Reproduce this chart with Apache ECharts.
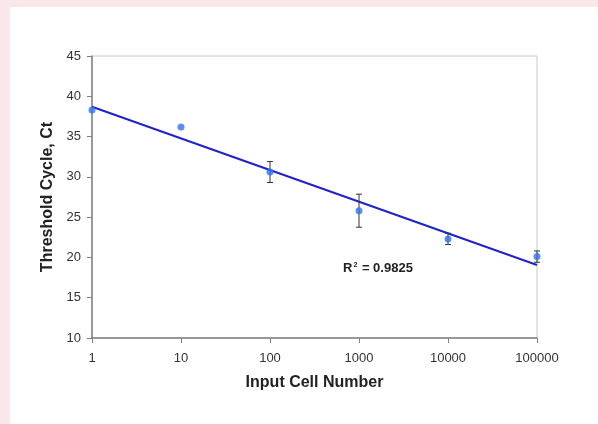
<!DOCTYPE html>
<html>
<head>
<meta charset="utf-8">
<script src="https://cdn.jsdelivr.net/npm/echarts@6/dist/echarts.min.js"></script>
<style>
html,body{margin:0;padding:0;background:#f9e7e9;}
#c{width:598px;height:424px;}
</style>
</head>
<body>
<div id="c"></div>
<script>
var cellNumbers = [1, 10, 100, 1000, 10000, 100000];
var ctMeans = [38.3, 36.2, 30.6, 25.8, 22.3, 20.1];
var ctErrors = [0, 0, 1.3, 2.05, 0.7, 0.7];
var xTickLabels = ['1', '10', '100', '1000', '10000', '100000'];
var yTicks = [10, 15, 20, 25, 30, 35, 40, 45];
var r2Label = '0.9825';

// least-squares fit of Ct vs log10(cell number)
var lx = cellNumbers.map(function (v) { return Math.log10(v); });
var n = lx.length;
var mx = lx.reduce(function (a, b) { return a + b; }, 0) / n;
var my = ctMeans.reduce(function (a, b) { return a + b; }, 0) / n;
var sxy = 0, sxx = 0;
for (var i = 0; i < n; i++) { sxy += (lx[i] - mx) * (ctMeans[i] - my); sxx += (lx[i] - mx) * (lx[i] - mx); }
var slope = sxy / sxx, intercept = my - slope * mx;
var trendData = [cellNumbers[0], cellNumbers[n - 1]].map(function (v) {
  return [v, intercept + slope * Math.log10(v)];
});

var errData = [];
for (var j = 0; j < n; j++) {
  if (ctErrors[j] > 0) errData.push([cellNumbers[j], ctMeans[j] - ctErrors[j], ctMeans[j] + ctErrors[j]]);
}

var chart = echarts.init(document.getElementById('c'));
var font = 'Liberation Sans, Arial, sans-serif';
chart.setOption({
  backgroundColor: '#f9e7e9',
  animation: false,
  graphic: [{
    type: 'rect', z: -10, silent: true,
    shape: { x: 10, y: 7, width: 600, height: 430 },
    style: { fill: '#ffffff' }
  }, {
    type: 'text', z: 10,
    left: 343, top: 262,
    style: {
      text: '{b|R}{s|2}{b| = ' + r2Label + '}',
      rich: {
        b: { fontFamily: font, fontSize: 13, fontWeight: 'bold', fill: '#222', verticalAlign: 'bottom' },
        s: { fontFamily: font, fontSize: 7, fontWeight: 'bold', fill: '#222', verticalAlign: 'top', padding: [0, 1, 6, 1] }
      }
    }
  }],
  grid: {
    left: 92, right: 61, top: 56, bottom: 86,
    show: true, borderColor: '#c8c8c8', borderWidth: 1, backgroundColor: 'transparent'
  },
  xAxis: {
    type: 'log', logBase: 10, min: 1, max: 100000,
    name: 'Input Cell Number', nameLocation: 'middle', nameGap: 37,
    nameTextStyle: { fontFamily: font, fontSize: 16, fontWeight: 'bold', color: '#222' },
    axisLine: { lineStyle: { color: '#808080', width: 1.5 } },
    axisTick: { show: true, length: 5, inside: false, lineStyle: { color: '#808080' } },
    minorTick: { show: false },
    splitLine: { show: false },
    axisLabel: {
      fontFamily: font, fontSize: 13, color: '#333', margin: 14,
      formatter: function (v) {
        var k = Math.round(Math.log10(v));
        return xTickLabels[k] !== undefined ? xTickLabels[k] : '';
      }
    }
  },
  yAxis: {
    type: 'value', min: 10, max: 45, interval: 5,
    name: 'Threshold Cycle, Ct', nameLocation: 'middle', nameGap: 31,
    nameTextStyle: { fontFamily: font, fontSize: 16, fontWeight: 'bold', color: '#222' },
    axisLine: { show: true, lineStyle: { color: '#808080', width: 1.5 } },
    axisTick: { show: true, length: 5, lineStyle: { color: '#808080' } },
    splitLine: { show: false },
    axisLabel: {
      fontFamily: font, fontSize: 13, color: '#333', margin: 11,
      formatter: function (v) { return yTicks.indexOf(v) >= 0 ? String(v) : ''; }
    }
  },
  series: [{
    type: 'line', data: trendData, symbol: 'none', z: 2,
    lineStyle: { color: '#1f22c9', width: 2 }
  }, {
    type: 'custom', z: 3, data: errData,
    renderItem: function (params, api) {
      var x = api.value(0), lo = api.value(1), hi = api.value(2);
      var p1 = api.coord([x, lo]), p2 = api.coord([x, hi]);
      var w = 3;
      var st = { stroke: '#333', lineWidth: 1 };
      return { type: 'group', children: [
        { type: 'line', shape: { x1: p1[0], y1: p1[1], x2: p2[0], y2: p2[1] }, style: st },
        { type: 'line', shape: { x1: p1[0] - w, y1: p1[1], x2: p1[0] + w, y2: p1[1] }, style: st },
        { type: 'line', shape: { x1: p2[0] - w, y1: p2[1], x2: p2[0] + w, y2: p2[1] }, style: st }
      ] };
    }
  }, {
    type: 'scatter', z: 4,
    data: cellNumbers.map(function (v, k) { return [v, ctMeans[k]]; }),
    symbol: 'circle', symbolSize: 7,
    itemStyle: { color: '#3072f2' }
  }]
});
</script>
</body>
</html>
